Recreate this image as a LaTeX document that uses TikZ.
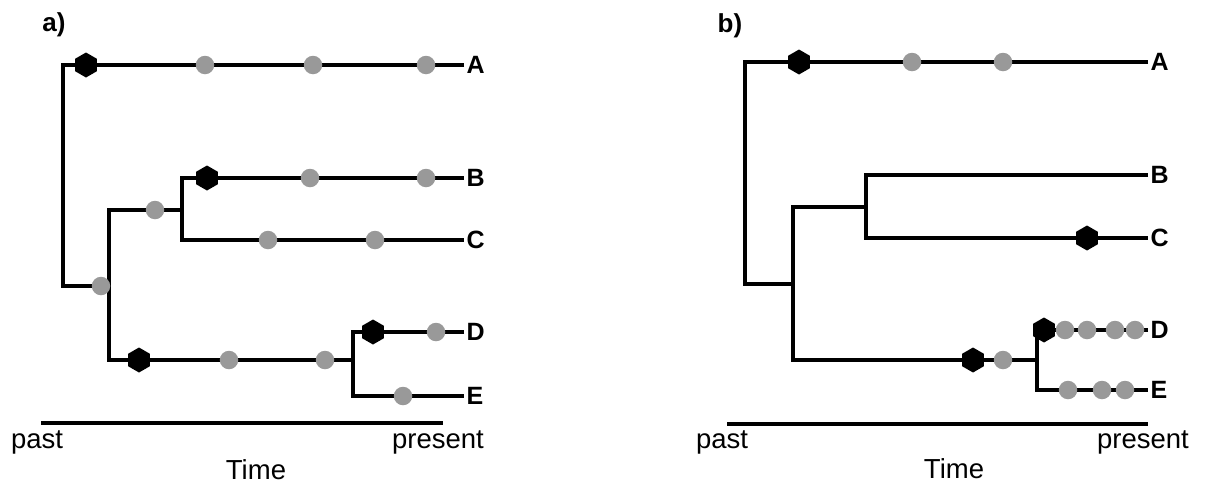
\documentclass[tikz,border=0pt]{standalone}
\usepackage{fontspec}
\setmainfont{Liberation Sans}
\usetikzlibrary{shapes.geometric}
\definecolor{dotgray}{RGB}{153,153,153}
\begin{document}
\begin{tikzpicture}[x=1pt,y=-1pt,
  branch/.style={line width=3.4pt, line join=miter},
  axis/.style={line width=4.5pt},
  dot/.style={circle, fill=dotgray, inner sep=0pt, minimum size=18.5pt},
  hexa/.style={regular polygon, regular polygon sides=6, shape border rotate=90,
    fill=black, inner sep=0pt, minimum size=25pt},
  tiplabel/.style={anchor=west, inner sep=2.5pt, font=\fontsize{25}{25}\selectfont\bfseries},
  panel/.style={inner sep=0pt, font=\fontsize{26}{26}\selectfont\bfseries},
  axislabel/.style={anchor=base, inner sep=0pt, font=\fontsize{27.5}{28}\selectfont}]
\useasboundingbox (0,0) rectangle (1205,485);

% ---------- panel a ----------
\node[panel] (a-title) at (54,25) {a)};
\coordinate (a-A) at (464,65);
\coordinate (a-root) at (63,286);
\coordinate (a-n1) at (109,286);
\coordinate (a-BC) at (182,210);
\coordinate (a-DE) at (353,360);
\coordinate (a-B) at (464,178);
\coordinate (a-C) at (464,240);
\coordinate (a-D) at (464,332);
\coordinate (a-E) at (464,396);

\draw[branch] (a-A) -| (a-root) -- (a-n1);
\draw[branch] (a-BC) -| (a-n1) |- (a-DE);
\draw[branch] (a-B) -| (a-BC) |- (a-C);
\draw[branch] (a-D) -| (a-DE) |- (a-E);

% events along branch A
\node[hexa] (a-h1) at (86,65) {};
\node[dot] (a-d1) at (205,65) {};
\node[dot] (a-d2) at (313,65) {};
\node[dot] (a-d3) at (426,65) {};
% inner stems
\node[dot] (a-d4) at (101,286) {};
\node[dot] (a-d5) at (155,210) {};
% branch B
\node[hexa] (a-h2) at (207,178) {};
\node[dot] (a-d6) at (310,178) {};
\node[dot] (a-d7) at (426,178) {};
% branch C
\node[dot] (a-d8) at (268,240) {};
\node[dot] (a-d9) at (375,240) {};
% stem of D+E
\node[hexa] (a-h3) at (139,360) {};
\node[dot] (a-d10) at (229,360) {};
\node[dot] (a-d11) at (325,360) {};
% branch D
\node[hexa] (a-h4) at (373,332) {};
\node[dot] (a-d12) at (436,332) {};
% branch E
\node[dot] (a-d13) at (403,396) {};

\node[tiplabel] (a-lA) at (a-A) {A};
\node[tiplabel] (a-lB) at (a-B) {B};
\node[tiplabel] (a-lC) at (a-C) {C};
\node[tiplabel] (a-lD) at (a-D) {D};
\node[tiplabel] (a-lE) at (a-E) {E};

\coordinate (a-past) at (41,423);
\coordinate (a-now) at (443,423);
\draw[axis] (a-past) -- (a-now);
\node[axislabel] (a-pastlbl) at (37,448) {past};
\node[axislabel] (a-nowlbl) at (438,448) {present};
\node[axislabel] (a-time) at (256,479) {Time};

% ---------- panel b ----------
\node[panel] (b-title) at (730,26) {b)};
\coordinate (b-A) at (1148,62);
\coordinate (b-root) at (745,284);
\coordinate (b-n1) at (793,284);
\coordinate (b-BC) at (866,207);
\coordinate (b-DE) at (1037,360);
\coordinate (b-B) at (1148,175);
\coordinate (b-C) at (1148,238);
\coordinate (b-D) at (1148,330);
\coordinate (b-E) at (1148,390);

\draw[branch] (b-A) -| (b-root) -- (b-n1);
\draw[branch] (b-BC) -| (b-n1) |- (b-DE);
\draw[branch] (b-B) -| (b-BC) |- (b-C);
\draw[branch] (b-D) -| (b-DE) |- (b-E);

% branch A
\node[hexa] (b-h1) at (799,62) {};
\node[dot] (b-d1) at (912,62) {};
\node[dot] (b-d2) at (1003,62) {};
% branch C
\node[hexa] (b-h2) at (1087,238) {};
% stem of D+E
\node[hexa] (b-h3) at (973,360) {};
\node[dot] (b-d3) at (1003,360) {};
% branch D
\node[hexa] (b-h4) at (1044,330) {};
\node[dot] (b-d4) at (1065,330) {};
\node[dot] (b-d5) at (1087,330) {};
\node[dot] (b-d6) at (1115,330) {};
\node[dot] (b-d7) at (1135,330) {};
% branch E
\node[dot] (b-d8) at (1068,390) {};
\node[dot] (b-d9) at (1102,390) {};
\node[dot] (b-d10) at (1125,390) {};

\node[tiplabel] (b-lA) at (b-A) {A};
\node[tiplabel] (b-lB) at (b-B) {B};
\node[tiplabel] (b-lC) at (b-C) {C};
\node[tiplabel] (b-lD) at (b-D) {D};
\node[tiplabel] (b-lE) at (b-E) {E};

\coordinate (b-past) at (727,424);
\coordinate (b-now) at (1148,424);
\draw[axis] (b-past) -- (b-now);
\node[axislabel] (b-pastlbl) at (722,448) {past};
\node[axislabel] (b-nowlbl) at (1143,448) {present};
\node[axislabel] (b-time) at (954,478) {Time};
\end{tikzpicture}
\end{document}
